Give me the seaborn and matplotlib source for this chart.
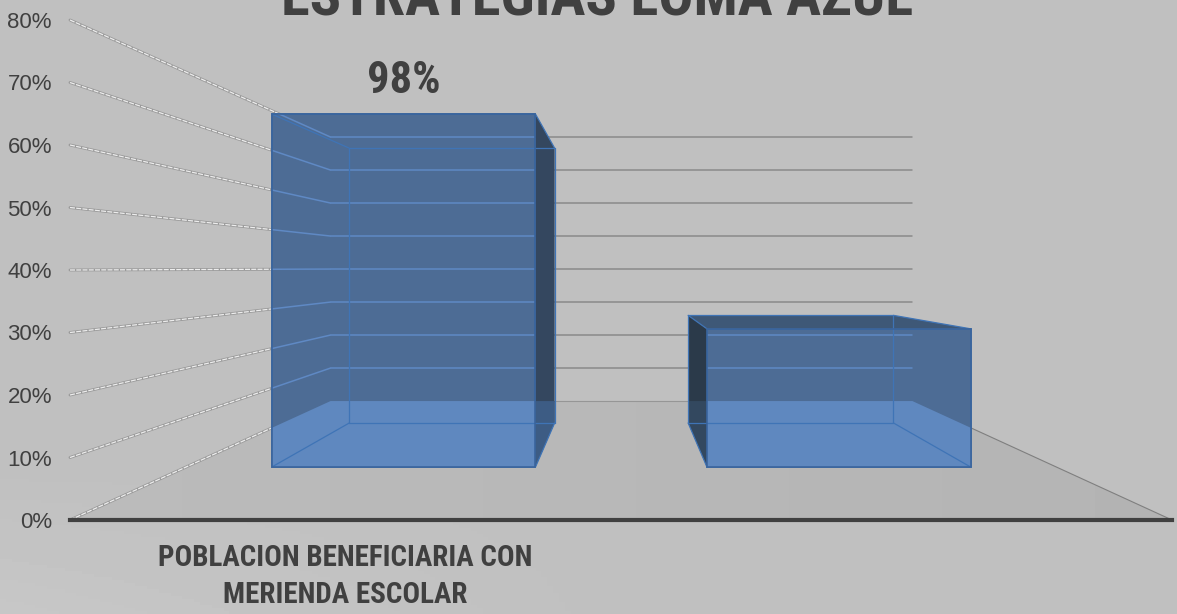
import numpy as np
import matplotlib
matplotlib.use("Agg")
import matplotlib.pyplot as plt
import seaborn as sns
from matplotlib.patches import Polygon
from matplotlib.transforms import Affine2D, IdentityTransform

categorias = ["POBLACION BENEFICIARIA CON\nMERIENDA ESCOLAR", " "]
valores = [0.715, 0.28]
etiquetas = ["98%", ""]
marcas = [0, 0.1, 0.2, 0.3, 0.4, 0.5, 0.6, 0.7, 0.8]
titulo = "ESTRATEGIAS LOMA AZUL"

# perspective of the original 3D chart: everything shrinks towards this point
VP_X, VP_Y = 622, 614 - 268
S_FRENTE, S_FONDO, S_PARED = 0.79, 0.615, 0.528

TEXTO = "#404040"
ANGOSTA = ["Roboto Condensed", "Roboto", "DejaVu Sans"]

sns.set_theme(style="white")
plt.rcParams["font.family"] = ["Liberation Sans", "DejaVu Sans"]

fig = plt.figure(figsize=(11.77, 6.14), dpi=100)

# background gradient, lighter at lower left
fondo = fig.add_axes([0, 0, 1, 1], zorder=-1)
fondo.axis("off")
yy, xx = np.mgrid[0:1:200j, 0:1:200j]
claro = np.clip((yy - 0.75) * 4, 0, 1) * np.clip(1 - xx * 1.8, 0, 1)
fondo.imshow(0.75 + 0.03 * claro, cmap="gray", vmin=0, vmax=1, aspect="auto", extent=(0, 1, 1, 0))

ax = fig.add_axes([70 / 1177, (614 - 520) / 614, 1102 / 1177, 500 / 614])
ax.set_facecolor("none")

sns.barplot(x=categorias, y=valores, ax=ax, color="#4d6c95", saturation=1, width=0.606,
            edgecolor="#3a659e", linewidth=1.2, zorder=3)
ax.set_xlim(-0.5, 1.5)
ax.set_ylim(0, 0.8)


def plano(s):
    return ax.transData + Affine2D().translate(-VP_X, -VP_Y).scale(s).translate(VP_X, VP_Y)


def pt(x, v, s):
    return plano(s).transform((x, v))


def cara(puntos, **kw):
    p = Polygon(puntos, closed=True, transform=IdentityTransform(), clip_on=False, **kw)
    ax.add_patch(p)
    return p


def linea(x0, v0, s0, x1, v1, s1, clip=None, **kw):
    a, b = pt(x0, v0, s0), pt(x1, v1, s1)
    l, = ax.plot([a[0], b[0]], [a[1], b[1]], transform=IdentityTransform(), clip_on=False, **kw)
    if clip is not None:
        l.set_clip_on(True)
        l.set_clip_path(clip)
    return l


# floor
esquinas_suelo = [pt(-0.5, 0, 1), pt(1.5, 0, 1), pt(1.5, 0, S_PARED), pt(-0.5, 0, S_PARED)]
fondo_suelo = fondo.imshow(0.735 - 0.03 * xx, cmap="gray", vmin=0, vmax=1, aspect="auto", extent=(0, 1, 1, 0))
fondo_suelo.set_clip_path(Polygon(esquinas_suelo, closed=True, transform=IdentityTransform()))
fondo.set_xlim(0, 1)
fondo.set_ylim(1, 0)

linea(-0.5, 0, S_PARED, 1.5, 0, S_PARED, color="#969696", lw=0.8, zorder=1)
linea(1.5, 0, S_PARED, 1.5, 0, 1, color="#7f7f7f", lw=0.8, zorder=1)

# walls: back grid lines and the double lines of the side wall
for m in marcas[1:]:
    linea(-0.5, m, S_PARED, 1.5, m, S_PARED, color="#8a8a8a", lw=1.1, zorder=1)
for m in marcas:
    linea(-0.5, m, 1, -0.5, m, S_PARED, color="#9a9a9a", lw=2.1, zorder=1)
    linea(-0.5, m, 1, -0.5, m, S_PARED, color="#ededed", lw=0.9, ls=(0, (4, 1)), zorder=1.1)

# 3D faces built around the bars seaborn drew
for i, bar in enumerate(ax.patches[:len(valores)]):
    bar.set_transform(plano(S_FRENTE))
    bar.set_clip_on(False)
    x0, x1, v = bar.get_x(), bar.get_x() + bar.get_width(), bar.get_height()

    # floor seen through the bar is lighter
    dentro = cara(esquinas_suelo, facecolor="#5f88bf", edgecolor="none", zorder=3.1)
    dentro.set_clip_on(True)
    dentro.set_clip_path(bar)

    # wall grid seen through the bar
    for m in marcas[1:]:
        linea(-0.5, m, S_PARED, 1.5, m, S_PARED, clip=bar, color="#5f89c4", lw=1.1, zorder=3.2)
        linea(-0.5, m, 1, -0.5, m, S_PARED, clip=bar, color="#5f89c4", lw=1.1, zorder=3.2)

    # side and top faces
    xs = x1 if i == 0 else x0
    lado = [pt(xs, v, S_FRENTE), pt(xs, v, S_FONDO), pt(xs, 0, S_FONDO), pt(xs, 0, S_FRENTE)]
    cara(lado, facecolor="#34475f" if i == 0 else "#2b3a4a", edgecolor="none", zorder=3.3)
    lado_suelo = cara(esquinas_suelo, facecolor="#3d5c84" if i == 0 else "#33485f", edgecolor="none", zorder=3.4)
    lado_suelo.set_clip_on(True)
    lado_suelo.set_clip_path(Polygon(lado, closed=True, transform=IdentityTransform()))
    if i == 1:
        cara([pt(x0, v, S_FRENTE), pt(x0, v, S_FONDO), pt(x1, v, S_FONDO), pt(x1, v, S_FRENTE)],
             facecolor="#3e5877", edgecolor="none", zorder=3.5)

    # edges: back box and connections to the front
    arista = dict(color="#3f74b6", lw=0.9, zorder=3.6)
    linea(x0, 0, S_FONDO, x1, 0, S_FONDO, **arista)
    linea(x0, v, S_FONDO, x1, v, S_FONDO, **arista)
    linea(x0, 0, S_FONDO, x0, v, S_FONDO, **arista)
    linea(x1, 0, S_FONDO, x1, v, S_FONDO, **arista)
    for xe in (x0, x1):
        linea(xe, 0, S_FRENTE, xe, 0, S_FONDO, **arista)
        linea(xe, v, S_FRENTE, xe, v, S_FONDO, **arista)
    cara([pt(x0, 0, S_FRENTE), pt(x1, 0, S_FRENTE), pt(x1, v, S_FRENTE), pt(x0, v, S_FRENTE)],
         facecolor="none", edgecolor="#3a659e", lw=1.2, zorder=3.7)

    if etiquetas[i]:
        ax.annotate(etiquetas[i], xy=(i, v), xycoords=plano(S_FRENTE), xytext=(0, 15), textcoords="offset points",
                    ha="center", va="baseline", fontsize=32, fontweight="bold", color=TEXTO, zorder=6,
                    family=ANGOSTA)

ax.set_yticks(marcas)
ax.set_yticklabels([f"{int(round(m * 100))}%" for m in marcas], fontsize=16, color=TEXTO)
ax.tick_params(axis="y", length=0, pad=13)
ax.tick_params(axis="x", length=0, pad=17)
for lab in ax.get_xticklabels():
    lab.set_family(ANGOSTA)
    lab.set_fontsize(21)
    lab.set_fontweight("bold")
    lab.set_color(TEXTO)
    lab.set_linespacing(1.42)
ax.set_ylabel("")
ax.set_xlabel("")
sns.despine(ax=ax, left=True, top=True, right=True)
ax.spines["bottom"].set_linewidth(3)
ax.spines["bottom"].set_color(TEXTO)
ax.spines["bottom"].set_zorder(5)

fig.suptitle(titulo, x=597 / 1177, y=1 - 15 / 614, va="baseline", fontsize=42, fontweight="bold", color=TEXTO,
             family=ANGOSTA)

fig.savefig("out.png", dpi=100)
